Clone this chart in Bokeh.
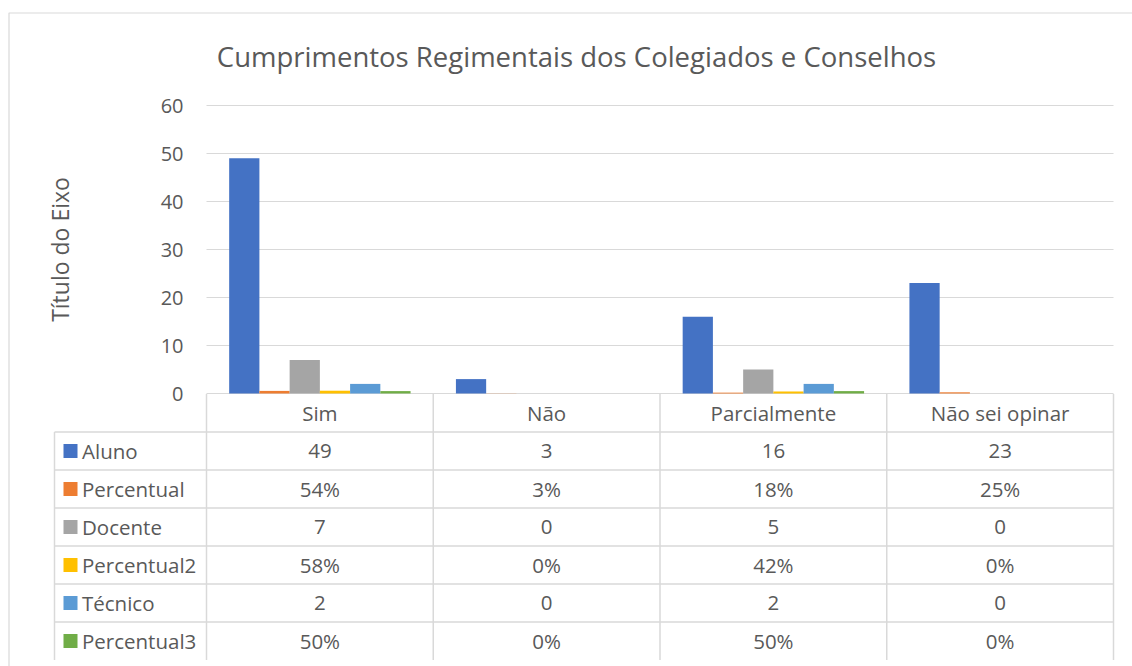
import math
from bokeh.plotting import figure
from bokeh.models import Range1d, ColumnDataSource
from bokeh.core.properties import value
from bokeh.embed import file_html
from bokeh.resources import INLINE

# ---------------- data ----------------
categories = ["Sim", "Não", "Parcialmente", "Não sei opinar"]
series_names = ["Aluno", "Percentual", "Docente", "Percentual2", "Técnico", "Percentual3"]
aluno = [49, 3, 16, 23]
percentual = [0.54, 0.03, 0.18, 0.25]
docente = [7, 0, 5, 0]
percentual2 = [0.58, 0.0, 0.42, 0.0]
tecnico = [2, 0, 2, 0]
percentual3 = [0.50, 0.0, 0.50, 0.0]
series_values = [aluno, percentual, docente, percentual2, tecnico, percentual3]
is_percent = [False, True, False, True, False, True]
y_ticks = [0, 10, 20, 30, 40, 50, 60]
title_text = "Cumprimentos Regimentais dos Colegiados e Conselhos"
axis_title_text = "Título do Eixo"

# ---------------- style ----------------
colors = ["#4472C4", "#ED7D31", "#A5A5A5", "#FFC000", "#5B9BD5", "#70AD47"]
grid_color = "#D9D9D9"
text_color = "#595959"
FONT = value("Open Sans")
TXT = "20.5px"

W, H = 1132, 666
PX_CAT = 226.75          # pixels per category
PLOT_LEFT = 206          # screen x of plot-area left
ZERO_Y = 393             # screen y of value 0
PX_UNIT = 4.8            # pixels per value unit
ROW_PX = 38.0
TABLE_TOP = 393.5

def ux(screen_x):
    return (screen_x - PLOT_LEFT) / PX_CAT

def vy(screen_y):
    return (ZERO_Y - screen_y) / PX_UNIT

x_range = Range1d(ux(0), ux(W))
y_range = Range1d(vy(H), vy(0))

p = figure(width=W, height=H, x_range=x_range, y_range=y_range,
           output_backend="svg", toolbar_location=None,
           x_axis_location=None, y_axis_location=None,
           min_border=0, min_border_left=0, min_border_right=0,
           min_border_top=0, min_border_bottom=0)
p.grid.visible = False
p.outline_line_color = None
p.background_fill_color = "white"
p.border_fill_color = "white"
p.extra_y_ranges = {"table": Range1d(start=(H - TABLE_TOP) / ROW_PX, end=(0 - TABLE_TOP) / ROW_PX)}

n_cat = len(categories)
n_ser = len(series_names)
bar_w = 1.0 / 7.5

# outer chart border (left and top visible)
p.line(x=[ux(8.5), ux(8.5), ux(W + 20)], y=[vy(H + 20), vy(12.5), vy(12.5)],
       line_color=grid_color, line_width=1.2)

# gridlines
p.segment(x0=[0] * len(y_ticks), x1=[n_cat] * len(y_ticks), y0=y_ticks, y1=y_ticks,
          line_color=grid_color, line_width=1.2)

# bars
for k, (name, vals, col) in enumerate(zip(series_names, series_values, colors)):
    xs = [i + 0.5 + (k - (n_ser - 1) / 2) * bar_w for i in range(n_cat)]
    src = ColumnDataSource(dict(x=xs, top=vals))
    p.vbar(x="x", top="top", bottom=0, width=bar_w, source=src,
           fill_color=col, line_color=None)

# y tick labels
p.text(x=[ux(183)] * len(y_ticks), y=y_ticks, text=[str(t) for t in y_ticks],
       text_font=FONT, text_font_size="20px", text_color=text_color,
       text_align="right", text_baseline="middle")

# axis title
p.text(x=[ux(59)], y=[30], text=[axis_title_text], angle=math.pi / 2,
       text_font=FONT, text_font_size="23px", text_color=text_color,
       text_align="center", text_baseline="middle")

# chart title
p.text(x=[ux(576)], y=[vy(56)], text=[title_text],
       text_font=FONT, text_font_size="27.5px", text_color=text_color,
       text_align="center", text_baseline="middle")

# ---------------- data table ----------------
left_edge = ux(54)
n_rows = n_ser + 1
# vertical lines
p.segment(x0=list(range(n_cat + 1)), x1=list(range(n_cat + 1)),
          y0=[0] * (n_cat + 1), y1=[n_rows] * (n_cat + 1),
          line_color=grid_color, line_width=1.5, y_range_name="table")
p.segment(x0=[left_edge], x1=[left_edge], y0=[1], y1=[n_rows],
          line_color=grid_color, line_width=1.5, y_range_name="table")
# horizontal lines
p.segment(x0=[left_edge] * n_ser, x1=[n_cat] * n_ser,
          y0=list(range(1, n_rows + 1)), y1=list(range(1, n_rows + 1)),
          line_color=grid_color, line_width=1.5, y_range_name="table")

# header
p.text(x=[i + 0.5 for i in range(n_cat)], y=[0.5] * n_cat, text=categories,
       text_font=FONT, text_font_size=TXT, text_color=text_color,
       text_align="center", text_baseline="middle", y_range_name="table")

# rows
for k, (name, vals, col, pct) in enumerate(zip(series_names, series_values, colors, is_percent)):
    row_y = k + 1.5
    labels = [f"{round(v * 100)}%" if pct else f"{v:g}" for v in vals]
    p.text(x=[i + 0.5 for i in range(n_cat)], y=[row_y] * n_cat, text=labels,
           text_font=FONT, text_font_size=TXT, text_color=text_color,
           text_align="center", text_baseline="middle", y_range_name="table")
    p.scatter(x=[ux(70)], y=[row_y], marker="square", size=14,
              fill_color=col, line_color=None, y_range_name="table")
    p.text(x=[ux(81.5)], y=[row_y], text=[name],
           text_font=FONT, text_font_size=TXT, text_color=text_color,
           text_align="left", text_baseline="middle", y_range_name="table")

open("out.html", "w").write(file_html(p, INLINE))
